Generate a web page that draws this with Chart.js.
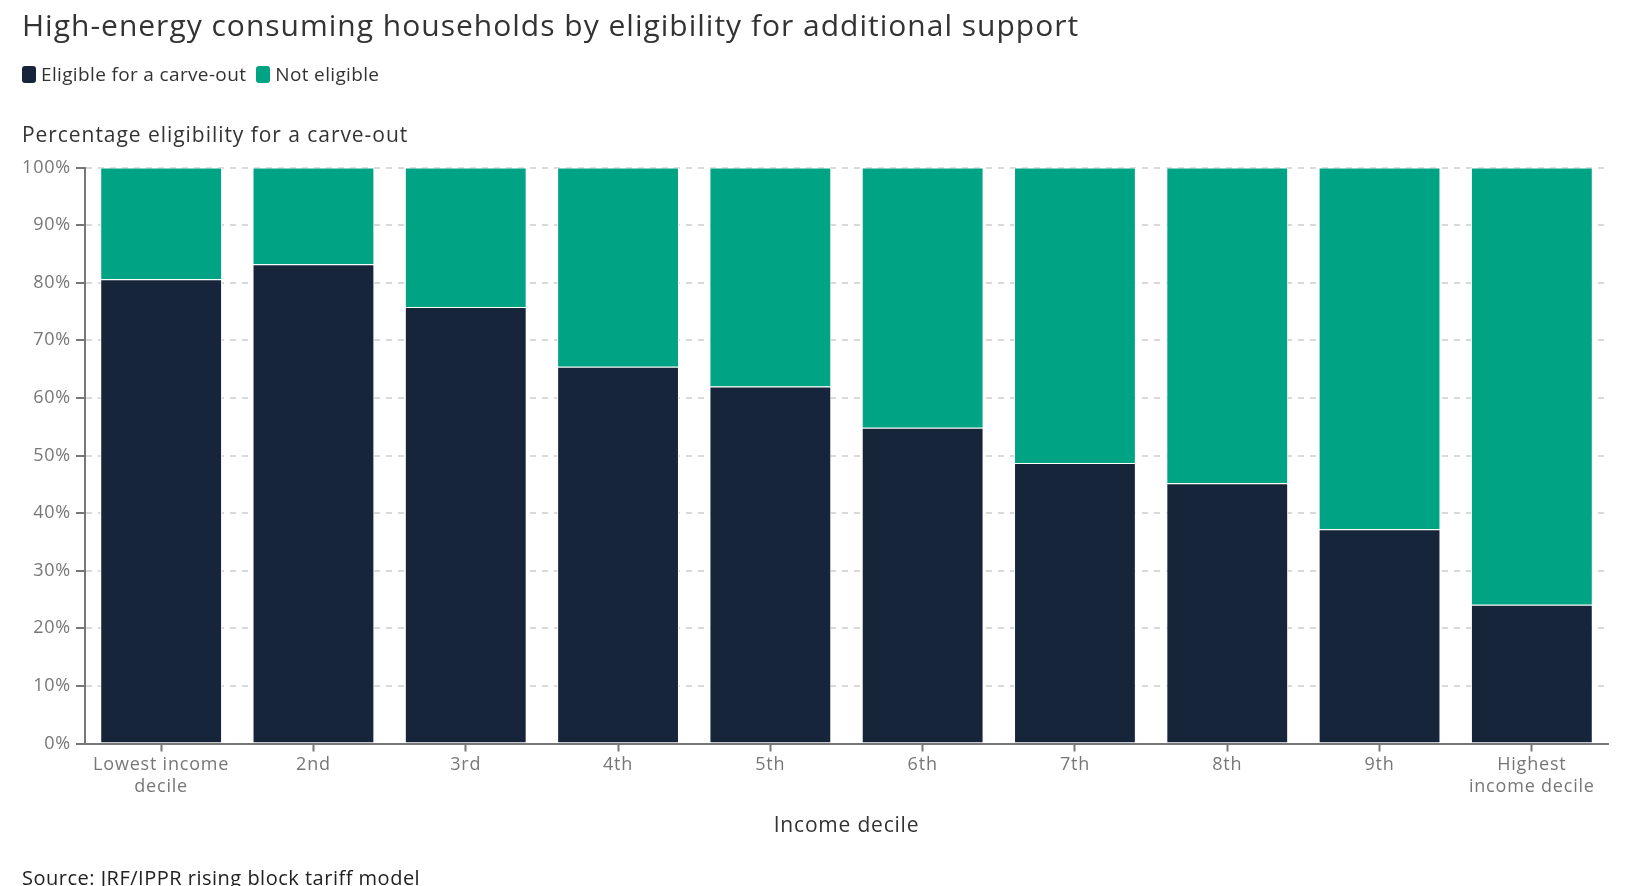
<!DOCTYPE html>
<html>
<head>
<meta charset="utf-8">
<script src="https://cdn.jsdelivr.net/npm/chart.js@4.4.1/dist/chart.umd.min.js"></script>
<style>
    html, body { margin: 0; padding: 0; background: #fff; overflow: hidden; }
    body { width: 1633px; height: 886px; position: relative; font-family: "Open Sans", "Noto Sans", sans-serif; }
    #title { position: absolute; left: 22px; top: 7px; font-size: 30px; line-height: 36px; letter-spacing: 1px; color: #333; white-space: nowrap; }
    #legend { position: absolute; left: 22px; top: 62px; font-size: 19px; line-height: 24px; letter-spacing: 0.35px; color: #333; display: flex; align-items: center; }
    #legend span.box { display: inline-block; width: 14px; height: 17px; border-radius: 3px; margin-right: 5px; }
    #legend span.item { display: inline-flex; align-items: center; margin-right: 10px; }
    #subtitle { position: absolute; left: 22px; top: 120px; font-size: 21px; line-height: 28px; letter-spacing: 0.95px; color: #333; white-space: nowrap; }
    #source { position: absolute; left: 22px; top: 865px; font-size: 20px; line-height: 26px; letter-spacing: 0.5px; color: #222; white-space: nowrap; }
    #wrap { position: absolute; left: 0; top: 0; width: 1633px; height: 886px; }
</style>
</head>
<body>
<div id="wrap"><canvas id="eligibilityChart" width="1633" height="886"></canvas></div>
<div id="title">High-energy consuming households by eligibility for additional support</div>
<div id="legend"></div>
<div id="subtitle">Percentage eligibility for a carve-out</div>
<div id="source">Source: JRF/IPPR rising block tariff model</div>

<script>
// Chart data
const deciles = [
    ["Lowest income", "decile"], "2nd", "3rd", "4th", "5th",
    "6th", "7th", "8th", "9th", ["Highest", "income decile"]
];
const eligible    = [80.6, 83.2, 75.8, 65.4, 62.0, 54.8, 48.7, 45.2, 37.2, 24.1];
const notEligible = [19.4, 16.8, 24.2, 34.6, 38.0, 45.2, 51.3, 54.8, 62.8, 75.9];
const seriesNames = ["Eligible for a carve-out", "Not eligible"];
const seriesColors = ["#17253b", "#00a383"];
const yTicks = [0, 10, 20, 30, 40, 50, 60, 70, 80, 90, 100];

const fontFamily = "'Open Sans', 'Noto Sans', sans-serif";
const axisGrey = "#777";
const tickFont = { family: fontFamily, size: 18 };

// Build the legend as plain html
const legendEl = document.getElementById("legend");
seriesNames.forEach((name, i) => {
    legendEl.insertAdjacentHTML("beforeend",
        `<span class="item"><span class="box" style="background:${seriesColors[i]}"></span>${name}</span>`);
});

// Slightly wider text on the canvas, closer to the original typeface
// (canvas state is reset on resize, so set it again before layout and draw)
const letterSpacingPlugin = {
    id: "letterSpacing",
    beforeLayout(chart) { chart.ctx.letterSpacing = "0.8px"; },
    beforeDraw(chart) { chart.ctx.letterSpacing = "0.8px"; }
};

new Chart(document.getElementById("eligibilityChart"), {
    type: "bar",
    plugins: [letterSpacingPlugin],
    data: {
        labels: deciles,
        datasets: [
            {
                label: seriesNames[0],
                data: eligible,
                backgroundColor: seriesColors[0],
                borderColor: "#ffffff",
                borderWidth: 1,
                barPercentage: 0.8,
                categoryPercentage: 1.0
            },
            {
                label: seriesNames[1],
                data: notEligible,
                backgroundColor: seriesColors[1],
                borderColor: "#ffffff",
                borderWidth: 1,
                barPercentage: 0.8,
                categoryPercentage: 1.0
            }
        ]
    },
    options: {
        responsive: false,
        animation: false,
        layout: { padding: { top: 167.5, left: 22, right: 25, bottom: 47.5 } },
        plugins: {
            legend: { display: false },
            title: { display: false },
            tooltip: { enabled: false }
        },
        scales: {
            x: {
                stacked: true,
                afterFit: (axis) => { axis.height = 95; },
                grid: {
                    offset: false,
                    drawOnChartArea: false,
                    drawTicks: true,
                    tickLength: 8,
                    tickColor: axisGrey,
                    tickWidth: 2
                },
                border: { color: axisGrey, width: 2 },
                ticks: { color: axisGrey, font: tickFont, padding: 3, maxRotation: 0 },
                title: {
                    display: true,
                    text: "Income decile",
                    color: "#333",
                    font: { family: fontFamily, size: 21 },
                    padding: { top: 17, bottom: 0 }
                }
            },
            y: {
                stacked: true,
                min: 0,
                max: 100,
                afterBuildTicks: (axis) => { axis.ticks = yTicks.map(v => ({ value: v })); },
                afterFit: (axis) => { axis.width = 63; },
                grid: {
                    color: "#d9d9d9",
                    lineWidth: 2,
                    tickLength: 9,
                    tickColor: axisGrey,
                    tickWidth: 2,
                    tickBorderDash: []
                },
                border: { color: axisGrey, width: 2, dash: [6, 6] },
                ticks: {
                    color: axisGrey,
                    font: tickFont,
                    padding: 5,
                    callback: (v) => v + "%"
                }
            }
        }
    }
});
</script>
</body>
</html>
